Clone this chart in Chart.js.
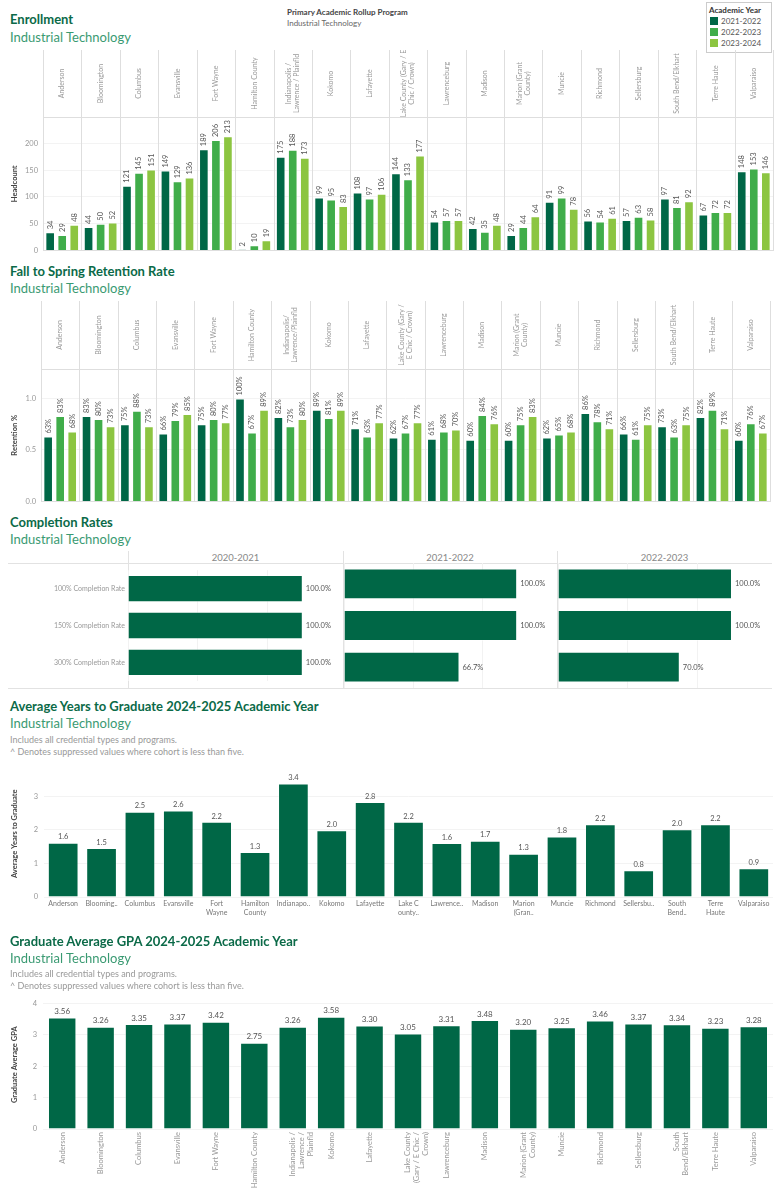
<!DOCTYPE html>
<html>
<head>
<meta charset="utf-8">
<script src="https://cdn.jsdelivr.net/npm/chart.js@4.4.1/dist/chart.umd.min.js"></script>
<style>
  body { margin: 0; background: #fff; font-family: Lato, "Open Sans", sans-serif; }
  #page { position: relative; width: 780px; height: 1200px; overflow: hidden; }
  .abs { position: absolute; white-space: nowrap; }
  .title { font-size: 13px; font-weight: bold; color: #0b6a48; line-height: 16px; }
  .sub { font-size: 13px; color: #3a9a72; line-height: 16px; }
  .note { font-size: 9px; color: #999; line-height: 12px; }
  canvas { position: absolute; }
  .line { position: absolute; background: #e2e2e2; }
</style>
</head>
<body>
<div id="page">
  <div class="abs title" style="left:10px;top:11px;">Enrollment</div>
  <div class="abs sub" style="left:10px;top:29px;">Industrial Technology</div>
  <div class="abs" style="left:287px;top:7px;font-size:8px;font-weight:bold;color:#444;">Primary Academic Rollup Program</div>
  <div class="abs" style="left:287px;top:18px;font-size:8px;color:#666;">Industrial Technology</div>
  <div class="abs" id="legend" style="left:706px;top:2px;width:64px;height:49px;border:1px solid #ccc;font-size:8px;color:#555;"></div>

  <canvas id="enroll" width="780" height="214" style="left:0;top:46px;"></canvas>

  <div class="abs title" style="left:10px;top:263px;">Fall to Spring Retention Rate</div>
  <div class="abs sub" style="left:10px;top:280px;">Industrial Technology</div>
  <canvas id="retention" width="780" height="214" style="left:0;top:297px;"></canvas>

  <div class="abs title" style="left:10px;top:514px;">Completion Rates</div>
  <div class="abs sub" style="left:10px;top:531px;">Industrial Technology</div>
  <div id="compHead"></div>
  <canvas id="compA" width="343" height="125" style="left:0;top:563px;"></canvas>
  <canvas id="compB" width="214" height="125" style="left:343px;top:563px;"></canvas>
  <canvas id="compC" width="215" height="125" style="left:557px;top:563px;"></canvas>

  <div class="abs title" style="left:10px;top:698px;">Average Years to Graduate 2024-2025 Academic Year</div>
  <div class="abs sub" style="left:10px;top:715px;">Industrial Technology</div>
  <div class="abs note" style="left:10px;top:734px;">Includes all credential types and programs.</div>
  <div class="abs note" style="left:10px;top:746px;">^ Denotes suppressed values where cohort is less than five.</div>
  <canvas id="years" width="780" height="180" style="left:0;top:760px;"></canvas>

  <div class="abs title" style="left:10px;top:933px;">Graduate Average GPA 2024-2025 Academic Year</div>
  <div class="abs sub" style="left:10px;top:950px;">Industrial Technology</div>
  <div class="abs note" style="left:10px;top:968px;">Includes all credential types and programs.</div>
  <div class="abs note" style="left:10px;top:980px;">^ Denotes suppressed values where cohort is less than five.</div>
  <canvas id="gpa" width="780" height="210" style="left:0;top:990px;"></canvas>
</div>

<script>
// ---------- data ----------
var campuses = ['Anderson', 'Bloomington', 'Columbus', 'Evansville', 'Fort Wayne', 'Hamilton County',
  'Indianapolis / Lawrence / Plainfld', 'Kokomo', 'Lafayette', 'Lake County (Gary / E Chic / Crown)',
  'Lawrenceburg', 'Madison', 'Marion (Grant County)', 'Muncie', 'Richmond', 'Sellersburg',
  'South Bend/Elkhart', 'Terre Haute', 'Valparaiso'];
var academicYears = ['2021-2022', '2022-2023', '2023-2024'];

var enrollHeaders = ['Anderson', 'Bloomington', 'Columbus', 'Evansville', 'Fort Wayne', 'Hamilton County',
  ['Indianapolis /', 'Lawrence / Plainfld'], 'Kokomo', 'Lafayette', ['Lake County (Gary / E', 'Chic / Crown)'],
  'Lawrenceburg', 'Madison', ['Marion (Grant', 'County)'], 'Muncie', 'Richmond', 'Sellersburg',
  'South Bend/Elkhart', 'Terre Haute', 'Valparaiso'];
var enrollTicks = [0, 50, 100, 150, 200];
var enroll2122 = [34, 44, 121, 149, 189, 2, 175, 99, 108, 144, 54, 42, 29, 91, 56, 57, 97, 67, 148];
var enroll2223 = [29, 50, 145, 129, 206, 10, 188, 95, 97, 133, 57, 35, 44, 99, 54, 63, 81, 72, 153];
var enroll2324 = [48, 52, 151, 136, 213, 19, 173, 83, 106, 177, 57, 48, 64, 78, 61, 58, 92, 72, 146];

var retentionHeaders = ['Anderson', 'Bloomington', 'Columbus', 'Evansville', 'Fort Wayne', 'Hamilton County',
  ['Indianapolis/', 'Lawrence/Plainfld'], 'Kokomo', 'Lafayette', ['Lake County (Gary /', 'E Chic / Crown)'],
  'Lawrenceburg', 'Madison', ['Marion (Grant', 'County)'], 'Muncie', 'Richmond', 'Sellersburg',
  'South Bend/Elkhart', 'Terre Haute', 'Valparaiso'];
var retentionTicks = [0, 0.5, 1.0];
var ret2122 = [0.63, 0.83, 0.75, 0.66, 0.75, 1.00, 0.82, 0.89, 0.71, 0.62, 0.61, 0.60, 0.60, 0.62, 0.86, 0.66, 0.73, 0.82, 0.60];
var ret2223 = [0.83, 0.80, 0.88, 0.79, 0.80, 0.67, 0.73, 0.81, 0.63, 0.67, 0.68, 0.84, 0.75, 0.65, 0.78, 0.61, 0.63, 0.89, 0.76];
var ret2324 = [0.68, 0.73, 0.73, 0.85, 0.77, 0.89, 0.80, 0.89, 0.77, 0.77, 0.70, 0.76, 0.83, 0.68, 0.71, 0.75, 0.75, 0.71, 0.67];

var completionYears = ['2020-2021', '2021-2022', '2022-2023'];
var completionRows = ['100% Completion Rate', '150% Completion Rate', '300% Completion Rate'];
var comp2021 = [1.0, 1.0, 1.0];
var comp2122 = [1.0, 1.0, 0.667];
var comp2223 = [1.0, 1.0, 0.70];

var yearsLabels = ['Anderson', 'Blooming..', 'Columbus', 'Evansville', ['Fort', 'Wayne'], ['Hamilton', 'County'],
  'Indianapo..', 'Kokomo', 'Lafayette', ['Lake C', 'ounty..'], 'Lawrence..', 'Madison', ['Marion', '(Gran..'],
  'Muncie', 'Richmond', 'Sellersbu..', ['South', 'Bend..'], ['Terre', 'Haute'], 'Valparaiso'];
var yearsValues = [1.62, 1.46, 2.54, 2.58, 2.24, 1.34, 3.38, 1.99, 2.83, 2.24, 1.61, 1.68, 1.29, 1.80, 2.17, 0.80, 2.02, 2.17, 0.86];

var gpaLabels = ['Anderson', 'Bloomington', 'Columbus', 'Evansville', 'Fort Wayne', 'Hamilton County',
  ['Indianapolis /', 'Lawrence /', 'Plainfld'], 'Kokomo', 'Lafayette', ['Lake County', '(Gary / E Chic /', 'Crown)'],
  'Lawrenceburg', 'Madison', ['Marion (Grant', 'County)'], 'Muncie', 'Richmond', 'Sellersburg',
  ['South', 'Bend/Elkhart'], 'Terre Haute', 'Valparaiso'];
var gpaValues = [3.56, 3.26, 3.35, 3.37, 3.42, 2.75, 3.26, 3.58, 3.30, 3.05, 3.31, 3.48, 3.20, 3.25, 3.46, 3.37, 3.34, 3.23, 3.28];

var greens = ['#006746', '#40ad4a', '#8cc541'];
var edge = 'rgba(255,255,255,0.45)';

Chart.defaults.font.family = 'Lato, "Open Sans", sans-serif';
Chart.defaults.color = '#999';

//===========================================
//  legend box (top right)
//===========================================
var lg = '<div style="font-weight:bold;color:#333;margin:2px 0 2px 2px;">Academic Year</div>';
for (var i = 0; i < academicYears.length; i++) {
  lg += '<div style="margin:0 0 2px 3px;line-height:9px;"><span style="display:inline-block;width:8px;height:8px;background:' +
    greens[i] + ';vertical-align:-1px;margin-right:3px;"></span>' + academicYears[i] + '</div>';
}
document.getElementById('legend').innerHTML = lg;

//===========================================
//  plugins: column headers and value labels
//===========================================
var headerPlugin = {
  id: 'header',
  beforeDatasetsDraw: function(chart, args, opts) {
    if (!opts.labels) return;
    var ctx = chart.ctx, a = chart.chartArea, xs = chart.scales.x;
    var n = opts.labels.length, w = (a.right - a.left) / n;
    var top = a.top - opts.height;
    ctx.save();
    ctx.strokeStyle = '#dedede';
    ctx.lineWidth = 1;
    ctx.beginPath();
    for (var i = 0; i <= n; i++) {
      var x = Math.round(a.left + i * w) + 0.5;
      ctx.moveTo(x, top);
      ctx.lineTo(x, a.bottom);
    }
    ctx.moveTo(a.left, Math.round(a.top) + 0.5);
    ctx.lineTo(a.right, Math.round(a.top) + 0.5);
    ctx.stroke();
    ctx.fillStyle = '#9a9a9a';
    ctx.font = '7px Lato, "Open Sans", sans-serif';
    ctx.textAlign = 'center';
    ctx.textBaseline = 'middle';
    for (var j = 0; j < n; j++) {
      var lines = [].concat(opts.labels[j]);
      ctx.save();
      ctx.translate(xs.getPixelForValue(j), top + opts.height / 2);
      ctx.rotate(-Math.PI / 2);
      for (var k = 0; k < lines.length; k++) {
        ctx.fillText(lines[k], 0, (k - (lines.length - 1) / 2) * 8);
      }
      ctx.restore();
    }
    ctx.restore();
  }
};

var valuePlugin = {
  id: 'values',
  afterDatasetsDraw: function(chart, args, opts) {
    if (!opts.format) return;
    var ctx = chart.ctx;
    ctx.save();
    ctx.fillStyle = opts.color || '#555';
    ctx.font = opts.font || '7.5px Lato, "Open Sans", sans-serif';
    chart.data.datasets.forEach(function(ds, di) {
      chart.getDatasetMeta(di).data.forEach(function(bar, i) {
        var txt = opts.format(ds.data[i]);
        if (opts.mode === 'vertical') {
          ctx.save();
          ctx.translate(bar.x, bar.y - 3);
          ctx.rotate(-Math.PI / 2);
          ctx.textAlign = 'left';
          ctx.textBaseline = 'middle';
          ctx.fillText(txt, 0, 0);
          ctx.restore();
        } else if (opts.mode === 'right') {
          ctx.textAlign = 'left';
          ctx.textBaseline = 'middle';
          ctx.fillText(txt, bar.x + 3, bar.y);
        } else {
          ctx.textAlign = 'center';
          ctx.textBaseline = 'bottom';
          ctx.fillText(txt, bar.x, bar.y - 2);
        }
      });
    });
    ctx.restore();
  }
};

function yTitle(text) {
  return { display: true, text: text, color: '#444', font: { size: 7.5, weight: 'bold' }, padding: { top: 0, bottom: 2 } };
}

function fixedTicks(list) {
  return function(s) { s.ticks = list.map(function(v) { return { value: v }; }); };
}

function groupedDatasets(a, b, c) {
  var sets = [a, b, c];
  return sets.map(function(d, i) {
    return { label: academicYears[i], data: d, backgroundColor: greens[i], borderColor: edge, borderWidth: 1 };
  });
}

//===========================================
//  Enrollment
//===========================================
new Chart(document.getElementById('enroll'), {
  type: 'bar',
  data: { labels: campuses, datasets: groupedDatasets(enroll2122, enroll2223, enroll2324) },
  options: {
    responsive: false, animation: false,
    layout: { padding: { top: 71, right: 7, bottom: 7, left: 10 } },
    datasets: { bar: { categoryPercentage: 0.94, barPercentage: 0.8 } },
    scales: {
      x: { ticks: { display: false }, grid: { display: false, drawTicks: false }, border: { display: true, color: '#dedede' } },
      y: {
        min: 0, max: 249,
        ticks: { padding: 5, font: { size: 7.5 } },
        afterBuildTicks: fixedTicks(enrollTicks),
        grid: { color: '#f3f3f3', drawTicks: false }, border: { display: false },
        title: yTitle('Headcount'),
        afterFit: function(s) { s.width = 33; }
      }
    },
    plugins: {
      legend: { display: false }, tooltip: { enabled: false },
      header: { labels: enrollHeaders, height: 67 },
      values: { mode: 'vertical', format: function(v) { return String(v); } }
    }
  },
  plugins: [headerPlugin, valuePlugin]
});

//===========================================
//  Retention
//===========================================
new Chart(document.getElementById('retention'), {
  type: 'bar',
  data: { labels: campuses, datasets: groupedDatasets(ret2122, ret2223, ret2324) },
  options: {
    responsive: false, animation: false,
    layout: { padding: { top: 72, right: 10, bottom: 7, left: 10 } },
    datasets: { bar: { categoryPercentage: 0.94, barPercentage: 0.8 } },
    scales: {
      x: { ticks: { display: false }, grid: { display: false, drawTicks: false }, border: { display: true, color: '#dedede' } },
      y: {
        min: 0, max: 1.286,
        ticks: { padding: 5, font: { size: 7.5 }, callback: function(v) { return v.toFixed(1); } },
        afterBuildTicks: fixedTicks(retentionTicks),
        grid: { color: '#f3f3f3', drawTicks: false }, border: { display: false },
        title: yTitle('Retention %'),
        afterFit: function(s) { s.width = 31; }
      }
    },
    plugins: {
      legend: { display: false }, tooltip: { enabled: false },
      header: { labels: retentionHeaders, height: 68 },
      values: { mode: 'vertical', format: function(v) { return Math.round(v * 100) + '%'; } }
    }
  },
  plugins: [headerPlugin, valuePlugin]
});

//===========================================
//  Completion rates (three panels)
//===========================================
var ch = '';
ch += '<div class="line" style="left:8px;top:563px;width:764px;height:1px;"></div>';
ch += '<div class="line" style="left:8px;top:688px;width:764px;height:1px;"></div>';
var panelX = [128, 343, 557, 772];
for (var p = 0; p < 3; p++) {
  ch += '<div class="line" style="left:' + panelX[p] + 'px;top:551px;width:1px;height:138px;"></div>';
  ch += '<div class="abs" style="left:' + panelX[p] + 'px;width:' + (panelX[p + 1] - panelX[p]) +
    'px;top:552px;text-align:center;font-size:9.5px;color:#888;">' + completionYears[p] + '</div>';
}
document.getElementById('compHead').innerHTML = ch;

function completionChart(id, values, showRows) {
  var yScale = {
    display: showRows,
    ticks: { padding: 3, color: '#999', font: { size: 7 } },
    grid: { display: false, drawTicks: false }, border: { display: false }
  };
  if (showRows) yScale.afterFit = function(s) { s.width = 128; };
  return new Chart(document.getElementById(id), {
    type: 'bar',
    data: { labels: completionRows, datasets: [{ data: values, backgroundColor: greens[0], borderColor: edge, borderWidth: 1 }] },
    options: {
      indexAxis: 'y', responsive: false, animation: false,
      layout: { padding: { left: showRows ? 0 : 1, right: 0, top: 0, bottom: 0 } },
      datasets: { bar: { categoryPercentage: 1, barPercentage: 0.74 } },
      scales: {
        x: { min: 0, max: 1.23, ticks: { display: false, stepSize: 0.4 },
          grid: { color: '#f2f2f2', drawTicks: false }, border: { display: false } },
        y: yScale
      },
      plugins: {
        legend: { display: false }, tooltip: { enabled: false },
        values: { mode: 'right', color: '#555', font: '7.5px Lato, "Open Sans", sans-serif',
          format: function(v) { return (v * 100).toFixed(1) + '%'; } }
      }
    },
    plugins: [valuePlugin]
  });
}
completionChart('compA', comp2021, true);
completionChart('compB', comp2122, false);
completionChart('compC', comp2223, false);

//===========================================
//  Average years to graduate
//===========================================
new Chart(document.getElementById('years'), {
  type: 'bar',
  data: { labels: yearsLabels, datasets: [{ data: yearsValues, backgroundColor: greens[0], borderColor: edge, borderWidth: 1 }] },
  options: {
    responsive: false, animation: false,
    layout: { padding: { top: 5, right: 7, bottom: 0, left: 10 } },
    datasets: { bar: { categoryPercentage: 1, barPercentage: 0.8 } },
    scales: {
      x: {
        ticks: { autoSkip: false, maxRotation: 0, minRotation: 0, color: '#777', font: { size: 7 }, padding: 3 },
        grid: { display: false, drawTicks: false }, border: { display: false },
        afterFit: function(s) { s.height = 43; }
      },
      y: {
        min: 0, max: 3.77,
        ticks: { stepSize: 1, includeBounds: false, padding: 6, font: { size: 7.5 } },
        grid: { color: '#f3f3f3', drawTicks: false }, border: { display: false },
        title: yTitle('Average Years to Graduate'),
        afterFit: function(s) { s.width = 34; }
      }
    },
    plugins: {
      legend: { display: false }, tooltip: { enabled: false },
      values: { mode: 'top', color: '#555', format: function(v) { return v.toFixed(1); } }
    }
  },
  plugins: [valuePlugin]
});

//===========================================
//  Graduate average GPA
//===========================================
new Chart(document.getElementById('gpa'), {
  type: 'bar',
  data: { labels: gpaLabels, datasets: [{ data: gpaValues, backgroundColor: greens[0], borderColor: edge, borderWidth: 1 }] },
  options: {
    responsive: false, animation: false,
    layout: { padding: { top: 7, right: 7, bottom: 0, left: 10 } },
    datasets: { bar: { categoryPercentage: 1, barPercentage: 0.74 } },
    scales: {
      x: {
        ticks: { autoSkip: false, maxRotation: 90, minRotation: 90, color: '#999', font: { size: 7.5 }, padding: 3 },
        grid: { display: false, drawTicks: false }, border: { display: false },
        afterFit: function(s) { s.height = 71; }
      },
      y: {
        min: 0, max: 4.1,
        ticks: { stepSize: 1, includeBounds: false, padding: 6, font: { size: 7.5 } },
        grid: { color: '#f3f3f3', drawTicks: false }, border: { display: false },
        title: yTitle('Graduate Average GPA'),
        afterFit: function(s) { s.width = 33; }
      }
    },
    plugins: {
      legend: { display: false }, tooltip: { enabled: false },
      values: { mode: 'top', color: '#555', font: '8px Lato, "Open Sans", sans-serif',
        format: function(v) { return v.toFixed(2); } }
    }
  },
  plugins: [valuePlugin]
});
</script>
</body>
</html>
